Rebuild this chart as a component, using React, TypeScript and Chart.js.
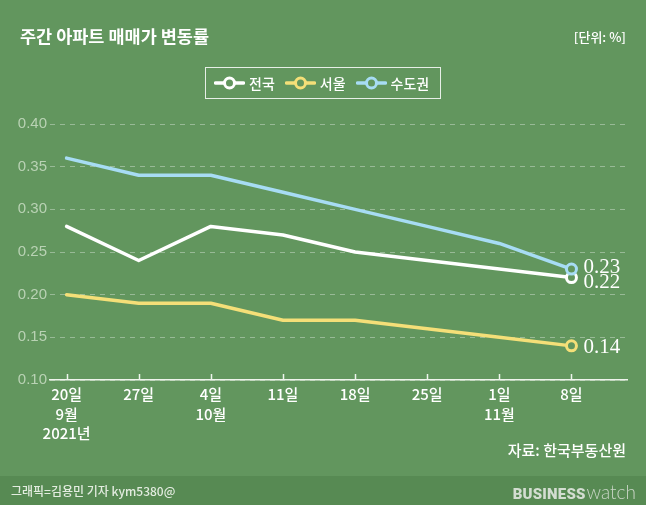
import React, { useEffect, useRef } from "react";
import { Chart, registerables } from "chart.js";

Chart.register(...registerables);

// ---- data ----
const xLabels: string[][] = [
  ["20일", "9월", "2021년"],
  ["27일"],
  ["4일", "10월"],
  ["11일"],
  ["18일"],
  ["25일"],
  ["1일", "11월"],
  ["8일"],
];
const seriesNames = ["전국", "서울", "수도권"];
const nationwide = [0.28, 0.24, 0.28, 0.27, 0.25, 0.24, 0.23, 0.22];
const seoul = [0.2, 0.19, 0.19, 0.17, 0.17, 0.16, 0.15, 0.14];
const capitalArea = [0.36, 0.34, 0.34, 0.32, 0.3, 0.28, 0.26, 0.23];
const yTickValues = [0.1, 0.15, 0.2, 0.25, 0.3, 0.35, 0.4];

// ---- styles ----
const BG = "#62965e";
const FOOTER_BG = "#578a53";
const seriesColors = ["#ffffff", "#f4df78", "#a7dcf4"];
const seriesOrder = [1, 2, 0];
const endLabelDy = [5, 2, -2];
const KR = '"Noto Sans CJK KR", "Noto Sans", sans-serif';

const seriesValues = [nationwide, seoul, capitalArea];

const endLabelPlugin = {
  id: "endLabels",
  afterDatasetsDraw(chart: any) {
    const ctx = chart.ctx;
    ctx.save();
    ctx.font = '21px "Liberation Serif", "DejaVu Serif", serif';
    ctx.fillStyle = "#ffffff";
    ctx.textBaseline = "middle";
    ctx.textAlign = "left";
    chart.data.datasets.forEach((ds: any, i: number) => {
      const meta = chart.getDatasetMeta(i);
      const last = meta.data.length - 1;
      const pt = meta.data[last];
      const v = ds.data[last].y as number;
      ctx.fillText(v.toFixed(2), pt.x + 12, pt.y + endLabelDy[i]);
    });
    ctx.restore();
  },
};

const xTickMarkPlugin = {
  id: "xTickMarks",
  afterDraw(chart: any) {
    const ctx = chart.ctx;
    const xs = chart.scales.x;
    const bottom = chart.chartArea.bottom;
    ctx.save();
    ctx.strokeStyle = "#eef4ec";
    ctx.lineWidth = 1.5;
    xs.ticks.forEach((t: any) => {
      const x = Math.round(xs.getPixelForValue(t.value)) + 0.5;
      ctx.beginPath();
      ctx.moveTo(x, bottom);
      ctx.lineTo(x, bottom - 6);
      ctx.stroke();
    });
    ctx.restore();
  },
};

function Symbol({ color }: { color: string }) {
  return (
    <svg width={31} height={16} style={{ display: "block" }}>
      <line x1={1.5} y1={8} x2={29.5} y2={8} stroke={color} strokeWidth={3.5} strokeLinecap="round" />
      <circle cx={15.5} cy={8} r={5} fill={BG} stroke={color} strokeWidth={3} />
    </svg>
  );
}

export default function App() {
  const ref = useRef<HTMLCanvasElement>(null);

  useEffect(() => {
    const last = xLabels.length - 1;
    const datasets = seriesNames.map((name, i) => ({
      label: name,
      data: seriesValues[i].map((v, k) => ({ x: k, y: v })),
      borderColor: seriesColors[i],
      backgroundColor: seriesColors[i],
      borderWidth: 3.5,
      borderCapStyle: "round" as const,
      borderJoinStyle: "round" as const,
      tension: 0,
      order: seriesOrder[i],
      pointRadius: seriesValues[i].map((_, k) => (k === last ? 5 : 0)),
      pointBorderWidth: 3,
      pointBorderColor: seriesColors[i],
      pointBackgroundColor: BG,
      fill: false,
    }));

    const chart = new Chart(ref.current as HTMLCanvasElement, {
      type: "line",
      data: { datasets },
      options: {
        animation: false,
        responsive: false,
        events: [],
        layout: { padding: { top: 124, right: 19, left: 0, bottom: 0 } },
        plugins: {
          legend: { display: false },
          tooltip: { enabled: false },
          title: { display: false },
        },
        scales: {
          x: {
            type: "linear",
            min: -0.23,
            max: 7.77,
            afterFit: (s: any) => {
              s.height = 125;
            },
            afterBuildTicks: (s: any) => {
              s.ticks = xLabels.map((_, k) => ({ value: k }));
            },
            grid: { display: false, drawTicks: false },
            border: { display: true, color: "#eef4ec", width: 1.5 },
            ticks: {
              autoSkip: false,
              maxRotation: 0,
              padding: 5,
              color: "#ffffff",
              font: { family: KR, size: 15, weight: "500", lineHeight: 1.3 },
              callback: (v: any) => xLabels[v as number] ?? "",
            },
          },
          y: {
            type: "linear",
            min: 0.1,
            max: 0.4,
            afterFit: (s: any) => {
              s.width = 50;
            },
            afterBuildTicks: (s: any) => {
              s.ticks = yTickValues.map((v) => ({ value: v }));
            },
            grid: {
              color: "rgba(255,255,255,0.35)",
              lineWidth: 1,
              drawTicks: false,
            },
            border: { display: false, dash: [5, 5] },
            ticks: {
              padding: 3,
              color: "#b9d2b4",
              font: { family: '"Liberation Sans", Arial, sans-serif', size: 15 },
              callback: (v: any) => (v as number).toFixed(2),
            },
          },
        },
      },
      plugins: [endLabelPlugin, xTickMarkPlugin],
    } as any);

    return () => chart.destroy();
  }, []);

  return (
    <div
      style={{
        position: "absolute",
        left: 0,
        top: 0,
        width: 646,
        height: 505,
        background: BG,
        overflow: "hidden",
        fontFamily: KR,
        color: "#ffffff",
      }}
    >
      <div style={{ position: "absolute", left: 0, top: 476, width: 646, height: 29, background: FOOTER_BG }} />
      <canvas ref={ref} width={646} height={505} style={{ position: "absolute", left: 0, top: 0, width: 646, height: 505 }} />

      <div style={{ position: "absolute", left: 20, top: 24, lineHeight: "24px", fontSize: 17.5, fontWeight: 700, whiteSpace: "nowrap" }}>
        주간 아파트 매매가 변동률
      </div>
      <div style={{ position: "absolute", right: 20, top: 27, lineHeight: "20px", fontSize: 13, fontWeight: 500, whiteSpace: "nowrap" }}>
        [단위: %]
      </div>

      <div
        style={{
          position: "absolute",
          left: 205,
          top: 67,
          width: 236,
          height: 32,
          boxSizing: "border-box",
          border: "1.5px solid rgba(255,255,255,0.85)",
          display: "flex",
          alignItems: "center",
          paddingLeft: 8,
        }}
      >
        {seriesNames.map((n, i) => (
          <div key={n} style={{ display: "flex", alignItems: "center", marginRight: 10 }}>
            <Symbol color={seriesColors[i]} />
            <span style={{ marginLeft: 4, fontSize: 14, fontWeight: 500, lineHeight: "18px", whiteSpace: "nowrap" }}>{n}</span>
          </div>
        ))}
      </div>

      <div style={{ position: "absolute", right: 20, top: 439, lineHeight: "22px", fontSize: 15, fontWeight: 500, whiteSpace: "nowrap" }}>
        자료: 한국부동산원
      </div>

      <div style={{ position: "absolute", left: 11, top: 482, lineHeight: "18px", fontSize: 12, fontWeight: 500, color: "#e3ece0", whiteSpace: "nowrap" }}>
        그래픽=김용민 기자 kym5380@
      </div>
      <div style={{ position: "absolute", right: 10, top: 480, lineHeight: "24px", whiteSpace: "nowrap", color: "#d3ddd1" }}>
        <span style={{ fontFamily: '"Roboto", "Liberation Sans", sans-serif', fontWeight: 900, fontSize: 15, letterSpacing: 0.2 }}>BUSINESS</span>
        <span style={{ fontFamily: '"Lato", "Open Sans", sans-serif', fontWeight: 300, fontSize: 19, marginLeft: 1, color: "#c9d5c6" }}>watch</span>
      </div>
    </div>
  );
}
